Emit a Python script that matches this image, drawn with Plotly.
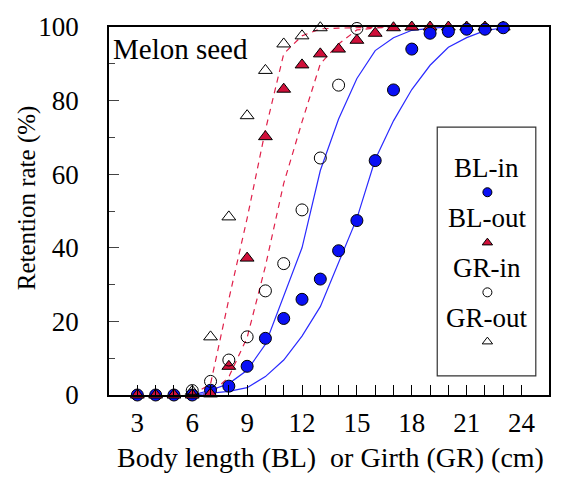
import plotly.graph_objects as go

# Retention rate (%) of melon-seed catches by body length (BL) and girth (GR)
bl_in_x = list(range(3, 24))
bl_in_y = [0, 0, 0, 0, 1.3, 2.4, 7.8, 15.4, 20.8, 26.0, 31.5, 39.2, 47.4,
           63.7, 82.9, 94.0, 98.3, 98.8, 99.4, 99.4, 99.8]

bl_out_x = list(range(3, 24))
bl_out_y = [0, 0, 0, 0, 0.3, 7.8, 37.2, 70.2, 83.1, 89.7, 92.7, 94.0, 96.4,
            98.3, 99.8, 100, 100, 100, 100, 100, 100]

gr_in_x = list(range(6, 16))
gr_in_y = [1.2, 3.7, 9.5, 15.8, 28.3, 35.7, 50.3, 64.4, 84.2, 99.6]

gr_out_x = list(range(6, 14))
gr_out_y = [1.0, 15.8, 48.4, 75.9, 88.2, 95.4, 97.6, 99.8]

# fitted selection curves
fit_gr_out_x = list(range(6, 18))
fit_gr_out_y = [0, 3, 26, 48, 72, 92.7, 97.6, 99.5, 99.7, 99.8, 99.9, 100]
fit_bl_out_x = list(range(6, 18))
fit_bl_out_y = [0, 0.3, 4.9, 15.6, 35, 57.5, 74.2, 90, 95.4, 99.2, 99.7, 100]
fit_gr_in_x = list(range(6, 21))
fit_gr_in_y = [0, 1.3, 3.1, 6.7, 13.8, 27, 40, 61, 75, 86, 93.6, 97.1, 99.1, 99.6, 100]
fit_bl_in_x = list(range(6, 24))
fit_bl_in_y = [0, 0.5, 1, 2, 5, 9.5, 16, 24, 36, 48, 64, 74.5, 83, 89.6, 94.5,
               97.1, 99, 99.8]

x_tick_vals = [3, 6, 9, 12, 15, 18, 21, 24]
x_minor_vals = list(range(3, 25))
y_tick_vals = [0, 20, 40, 60, 80, 100]
y_minor_vals = [10, 30, 50, 70, 90]

legend_names = ["BL-in", "BL-out", "GR-in", "GR-out"]

SERIF = "Liberation Serif"
BLUE = "#0a10f5"
RED = "#d0103a"
LINE_BLUE = "#2a2aff"
LINE_RED = "#e0204a"

fig = go.Figure()

# fitted curves
for xs, ys in [(fit_gr_out_x, fit_gr_out_y), (fit_bl_out_x, fit_bl_out_y)]:
    fig.add_trace(go.Scatter(x=xs, y=ys, mode="lines",
                             line=dict(color=LINE_RED, width=1.2, dash="6px,5px"),
                             showlegend=False, hoverinfo="skip"))
for xs, ys in [(fit_gr_in_x, fit_gr_in_y), (fit_bl_in_x, fit_bl_in_y)]:
    fig.add_trace(go.Scatter(x=xs, y=ys, mode="lines",
                             line=dict(color=LINE_BLUE, width=1.2),
                             showlegend=False, hoverinfo="skip"))

# observed points
marker_styles = {
    "BL-in": dict(symbol="circle", size=12, color=BLUE, line=dict(color="black", width=1)),
    "BL-out": dict(symbol="triangle-up", size=12, color=RED, line=dict(color="black", width=1)),
    "GR-in": dict(symbol="circle-open", size=12, color="black", line=dict(width=1)),
    "GR-out": dict(symbol="triangle-up-open", size=12, color="black", line=dict(width=1)),
}


def add_points(xs, ys, style):
    fig.add_trace(go.Scatter(x=xs, y=ys, mode="markers", marker=style,
                             cliponaxis=False, showlegend=False))


# saturated BL-out points lie beneath the BL-in circles, the rest on top
sat = [(x, y) for x, y in zip(bl_out_x, bl_out_y) if y >= 100]
rest = [(x, y) for x, y in zip(bl_out_x, bl_out_y) if y < 100]
add_points([p[0] for p in sat], [p[1] for p in sat], marker_styles["BL-out"])
add_points(bl_in_x, bl_in_y, marker_styles["BL-in"])
add_points([p[0] for p in rest], [p[1] for p in rest], marker_styles["BL-out"])
add_points(gr_in_x, gr_in_y, marker_styles["GR-in"])
add_points(gr_out_x, gr_out_y, marker_styles["GR-out"])

# hand-built legend: text above each symbol inside a framed box
box_x0, box_x1, box_y0, box_y1 = 0.746, 0.970, 0.052, 0.728
legend_cx = 0.858
text_y = [0.618, 0.481, 0.345, 0.209]
mark_y = [0.551, 0.414, 0.279, 0.145]
fig.add_shape(type="rect", xref="paper", yref="paper",
              x0=box_x0, x1=box_x1, y0=box_y0, y1=box_y1,
              line=dict(color="#333333", width=1.2), fillcolor="white", layer="below")
for name, ty in zip(legend_names, text_y):
    fig.add_annotation(x=legend_cx, y=ty, xref="paper", yref="paper", text=name,
                       showarrow=False, xanchor="center", yanchor="middle",
                       font=dict(family=SERIF, size=27, color="black"))
for name, my in zip(legend_names, mark_y):
    st = dict(marker_styles[name])
    st["size"] = 9
    fig.add_trace(go.Scatter(x=[legend_cx + 0.002], y=[my], mode="markers",
                             marker=st, xaxis="x2", yaxis="y2",
                             showlegend=False, hoverinfo="skip"))

fig.add_annotation(x=0.005, y=0.94, xref="paper", yref="paper", text="Melon seed",
                   showarrow=False, xanchor="left", yanchor="middle",
                   font=dict(family=SERIF, size=29, color="black"))
fig.add_annotation(x=0.5045, y=-0.171, xref="paper", yref="paper",
                   text="Body length (BL)&nbsp; or Girth (GR) (cm)",
                   showarrow=False, xanchor="center", yanchor="middle",
                   font=dict(family=SERIF, size=28, color="black"))
fig.add_annotation(x=-0.186, y=0.535, xref="paper", yref="paper",
                   text="Retention rate (%)", textangle=-90,
                   showarrow=False, xanchor="center", yanchor="middle",
                   font=dict(family=SERIF, size=25, color="black"))

fig.update_layout(
    width=571, height=477,
    margin=dict(l=109, r=22, t=21, b=82),
    paper_bgcolor="white", plot_bgcolor="white",
    showlegend=False,
    font=dict(family=SERIF, color="black"),
    xaxis=dict(range=[1.45, 25.5], tickmode="array", tickvals=x_tick_vals,
               ticks="inside", ticklen=10, tickwidth=1, tickcolor="black",
               minor=dict(tickmode="array", tickvals=x_minor_vals, ticks="inside",
                          ticklen=10, tickwidth=1, tickcolor="black"),
               showline=True, linecolor="black", linewidth=1.5, mirror=True,
               showgrid=False, zeroline=False,
               tickfont=dict(family=SERIF, size=27, color="black"),
               ticklabelstandoff=3),
    yaxis=dict(range=[0, 100], tickmode="array", tickvals=y_tick_vals,
               ticks="inside", ticklen=10, tickwidth=1, tickcolor="#444444",
               minor=dict(tickmode="array", tickvals=y_minor_vals, ticks="inside",
                          ticklen=6, tickwidth=1, tickcolor="#444444"),
               showline=True, linecolor="black", linewidth=1.5, mirror=True,
               showgrid=False, zeroline=False,
               tickfont=dict(family=SERIF, size=27, color="black"),
               ticklabelstandoff=23),
    xaxis2=dict(domain=[0, 1], range=[0, 1], overlaying="x", visible=False,
                fixedrange=True),
    yaxis2=dict(domain=[0, 1], range=[0, 1], overlaying="y", visible=False,
                fixedrange=True),
)

fig.write_html("out.html")
